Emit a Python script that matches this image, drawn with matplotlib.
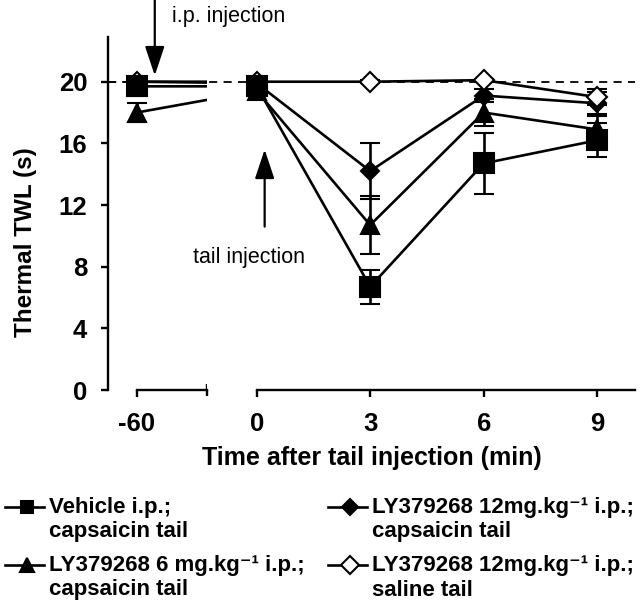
import numpy as np
import matplotlib
matplotlib.use("Agg")
import matplotlib.pyplot as plt
from matplotlib.lines import Line2D

plt.rcParams["font.family"] = ["Liberation Sans", "DejaVu Sans"]

# data
tiempos = [-60, 0, 3, 6, 9]
vehiculo = [19.7, 19.7, 6.7, 14.7, 16.2]
vehiculo_err = [0.6, 0.3, 1.1, 2.0, 1.1]
ly6 = [18.0, 19.4, 10.7, 18.0, 16.9]
ly6_err = [0.6, 0.3, 1.9, 0.9, 0.9]
ly12 = [20.0, 19.9, 14.2, 19.1, 18.6]
ly12_err = [0.3, 0.2, 1.8, 0.4, 0.7]
ly12_salino = [20.0, 20.0, 20.0, 20.1, 19.0]
ly12_salino_err = [0.2, 0.1, 0.1, 0.1, 0.5]

ticks_x = [-60, 0, 3, 6, 9]
ticks_y = [0, 4, 8, 12, 16, 20]
basal = 20

etiquetas = [
    ("Vehicle i.p.;", "capsaicin tail"),
    ("LY379268 6 mg.kg\u207b\u00b9 i.p.;", "capsaicin tail"),
    ("LY379268 12mg.kg\u207b\u00b9 i.p.;", "capsaicin tail"),
    ("LY379268 12mg.kg\u207b\u00b9 i.p.;", "saline tail"),
]

# eje x comprimido para la parte negativa (corte del eje)
COMPRIME = 3.17 / 60


def adelante(x):
    x = np.asarray(x, dtype=float)
    return np.where(x < 0, x * COMPRIME, x)


def atras(x):
    x = np.asarray(x, dtype=float)
    return np.where(x < 0, x / COMPRIME, x)


fig = plt.figure(figsize=(6.4, 6.06), dpi=100)
ax = fig.add_axes([108 / 640, (606 - 390) / 606, (635 - 108) / 640, (390 - 37) / 606])
ax.set_xscale("function", functions=(adelante, atras))
ax.set_xlim(-74.4, 10)
ax.set_ylim(0, 22.9)

LW = 1.9
series = [
    (ly6, ly6_err, "^", "black", 12.5),
    (ly12, ly12_err, "D", "black", 9),
    (ly12_salino, ly12_salino_err, "D", "white", 10),
    (vehiculo, vehiculo_err, "s", "black", 14),
]
leyenda_ms = [9.5, 8, 9, 9]

for y, err, m, fc, ms in series:
    ax.plot(tiempos, y, "-", color="black", lw=LW, zorder=2)

# corte del eje: tapar las lineas entre -60 y 0
ax.axvspan(-25, -3, color="white", zorder=2.5, lw=0)
ax.axhline(basal, color="black", lw=1.3, ls=(0, (4.5, 3.5)), zorder=1.5)
ax.plot([-74.4, -3], [basal, basal], color="black", lw=1.3, ls=(0, (4.5, 3.5)), zorder=2.6)

for y, err, m, fc, ms in series:
    ax.errorbar(tiempos, y, yerr=err, fmt=m, ms=ms, mfc=fc, mec="black", mew=1.5,
                ecolor="black", elinewidth=LW, capsize=7.5, capthick=LW, zorder=3)

for s in ["top", "right"]:
    ax.spines[s].set_visible(False)
ax.spines["left"].set_linewidth(1.7)
ax.spines["bottom"].set_linewidth(1.7)
ax.spines["bottom"].set_bounds(0, 10)
ax.plot([-60, -25], [0, 0], color="black", lw=1.7, clip_on=False, zorder=4)

ax.set_xticks(ticks_x)
ax.set_xticklabels([str(t) for t in ticks_x])
ax.set_xticks([-25], minor=True)
ax.set_yticks(ticks_y)
ax.tick_params(axis="both", which="major", direction="out", length=5, width=1.7,
               labelsize=18.5)
ax.tick_params(axis="x", which="major", pad=11)
ax.tick_params(axis="y", which="major", pad=10)
ax.tick_params(axis="x", which="minor", direction="inout", length=8, width=1.7)
for lab in ax.get_xticklabels() + ax.get_yticklabels():
    lab.set_fontweight("bold")

ax.set_xlabel("Time after tail injection (min)", fontsize=18, fontweight="bold")
ax.xaxis.set_label_coords(0.501, -0.16)
ax.set_ylabel("Thermal TWL (s)", fontsize=17.5, fontweight="bold")
ax.yaxis.set_label_coords(-0.135, 0.42)

# flechas de inyeccion
flecha = dict(arrowstyle="-|>,head_length=0.9,head_width=0.3", color="black",
              lw=1.6, mutation_scale=20, shrinkA=0, shrinkB=0)
ax.annotate("", xy=(-51, 20.4), xytext=(-51, 25.3), arrowprops=flecha,
            annotation_clip=False)
ax.text(0.122, 1.057, "i.p. injection", transform=ax.transAxes, fontsize=15.5,
        ha="left", va="center")
ax.annotate("", xy=(0.21, 15.6), xytext=(0.21, 10.6), arrowprops=flecha)
ax.text(0.268, 0.376, "tail injection", transform=ax.transAxes, fontsize=15.5,
        ha="center", va="center")

# leyenda manual (marcador en la primera linea)
posiciones = [(5, 507), (5, 565), (328, 507), (328, 565)]
orden_leyenda = [3, 0, 1, 2]
for (px, py), idx, (l1, l2) in zip(posiciones, orden_leyenda, etiquetas):
    _, _, m, fc, _ = series[idx]
    xs = [px / 640, (px + 22) / 640, (px + 39) / 640]
    yy = 1 - py / 606
    fig.add_artist(Line2D(xs, [yy] * 3, color="black", lw=LW, marker=m,
                          ms=leyenda_ms[idx], mfc=fc, mec="black", mew=1.5,
                          markevery=[1], transform=fig.transFigure))
    fig.text((px + 44) / 640, yy, l1, fontsize=16, fontweight="bold",
             ha="left", va="center")
    fig.text((px + 44) / 640, 1 - (py + 25) / 606, l2, fontsize=16,
             fontweight="bold", ha="left", va="center")

fig.savefig("out.png", dpi=100)
